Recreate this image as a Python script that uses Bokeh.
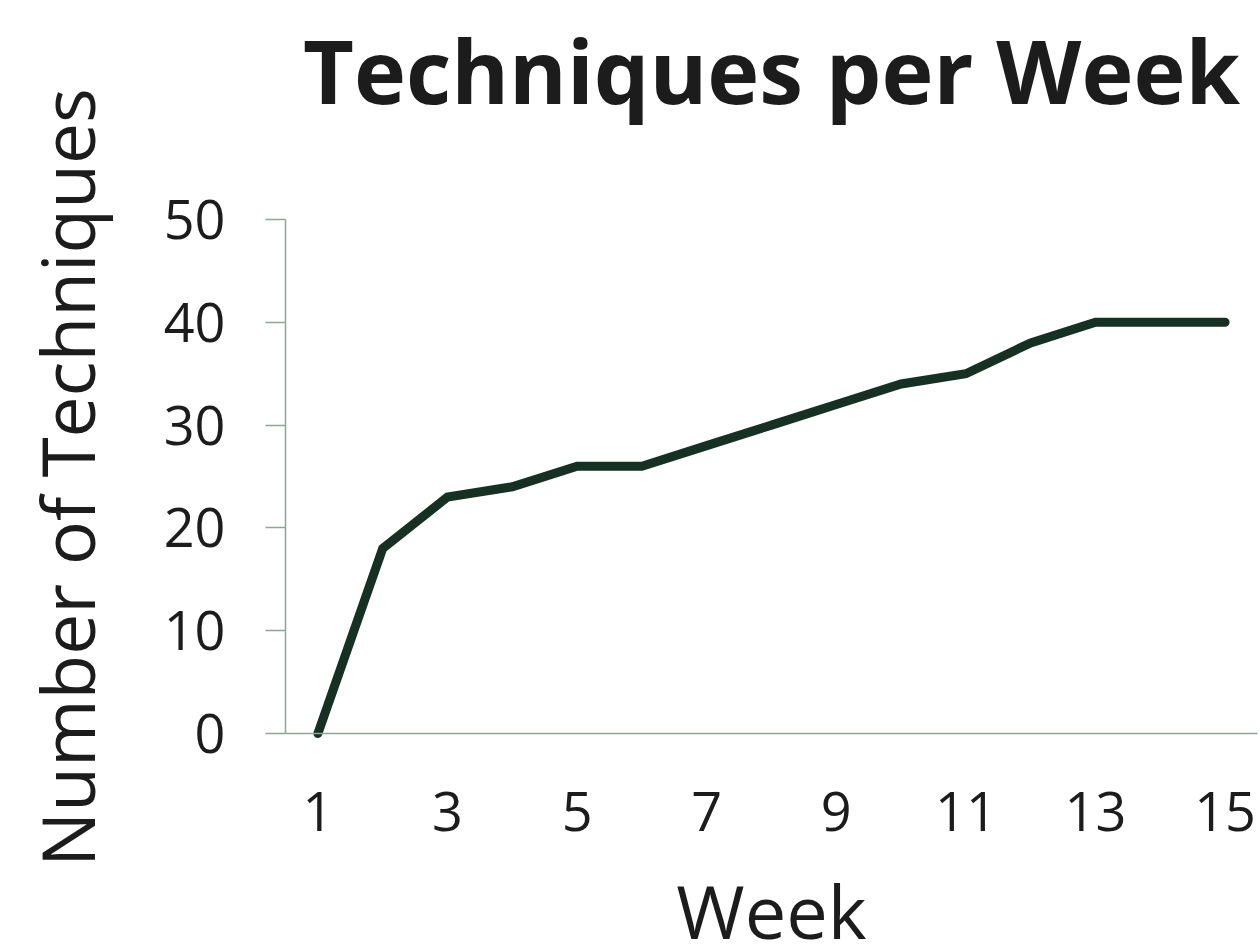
import math
from bokeh.plotting import figure
from bokeh.models import FixedTicker, Range1d, Label
from bokeh.embed import file_html
from bokeh.resources import INLINE

weeks = [1, 2, 3, 4, 5, 6, 7, 8, 9, 10, 11, 12, 13, 14, 15]
techniques = [0, 18, 23, 24, 26, 26, 28, 30, 32, 34, 35, 38, 40, 40, 40]
x_ticks = [1, 3, 5, 7, 9, 11, 13, 15]
y_ticks = [0, 10, 20, 30, 40, 50]
title_text = "Techniques per Week"
x_label = "Week"
y_label = "Number of Techniques"

FONT = "Open Sans"
TXT = "#1c1c1c"
AXIS = "#8ea597"

# The frame covers the whole canvas; the axes are drawn at fixed data locations
# and bounded to the data extent (weeks 0.5..15.5, techniques 0..50).
W, H = 1260, 952
PX_LEFT, PX_RIGHT, PX_TOP, PX_BOTTOM = 285, 1257, 219, 733
X0, X1, Y0, Y1 = 0.5, 15.5, 0, 50
xs = (X1 - X0) / (PX_RIGHT - PX_LEFT)
ys = (Y1 - Y0) / (PX_BOTTOM - PX_TOP)
x_range = Range1d(X0 - PX_LEFT * xs, X1 + (W - PX_RIGHT) * xs)
y_range = Range1d(Y0 - (H - PX_BOTTOM) * ys, Y1 + PX_TOP * ys)

p = figure(width=W, height=H, output_backend="svg", toolbar_location=None,
           x_range=x_range, y_range=y_range,
           min_border_left=0, min_border_right=0, min_border_top=0, min_border_bottom=0)
p.outline_line_color = None
p.grid.visible = False
p.background_fill_color = "white"
p.border_fill_color = "white"

p.line(weeks, techniques, line_color="#163123", line_width=9, line_cap="round", line_join="miter")

for ax in (p.xaxis[0], p.yaxis[0]):
    ax.axis_line_color = AXIS
    ax.axis_line_width = 1.5
    ax.major_tick_line_color = AXIS
    ax.major_tick_line_width = 1.5
    ax.minor_tick_line_color = None
    ax.major_label_text_font = FONT
    ax.major_label_text_font_size = "54px"
    ax.major_label_text_color = TXT

p.xaxis[0].fixed_location = Y0
p.xaxis[0].bounds = (X0, X1)
p.yaxis[0].fixed_location = X0
p.yaxis[0].bounds = (Y0, Y1)

p.xaxis[0].ticker = FixedTicker(ticks=x_ticks)
p.yaxis[0].ticker = FixedTicker(ticks=y_ticks)
p.xaxis[0].major_tick_out = 0
p.xaxis[0].major_tick_in = 0
p.xaxis[0].major_label_standoff = 58
p.yaxis[0].major_tick_out = 20
p.yaxis[0].major_tick_in = 0
p.yaxis[0].major_label_standoff = 40

p.add_layout(Label(x=8.0, y=64.5, text=title_text, text_align="center", text_baseline="alphabetic",
                   text_font=FONT, text_font_style="bold", text_font_size="88px", text_color=TXT))
p.add_layout(Label(x=8.0, y=-17.2, text=x_label, text_align="center", text_baseline="alphabetic",
                   text_font=FONT, text_font_size="74px", text_color=TXT))
p.add_layout(Label(x=-2.88, y=24.9, text=y_label, angle=math.pi / 2, text_align="center",
                   text_baseline="alphabetic", text_font=FONT, text_font_size="73px", text_color=TXT))

open("out.html", "w").write(file_html(p, INLINE))
